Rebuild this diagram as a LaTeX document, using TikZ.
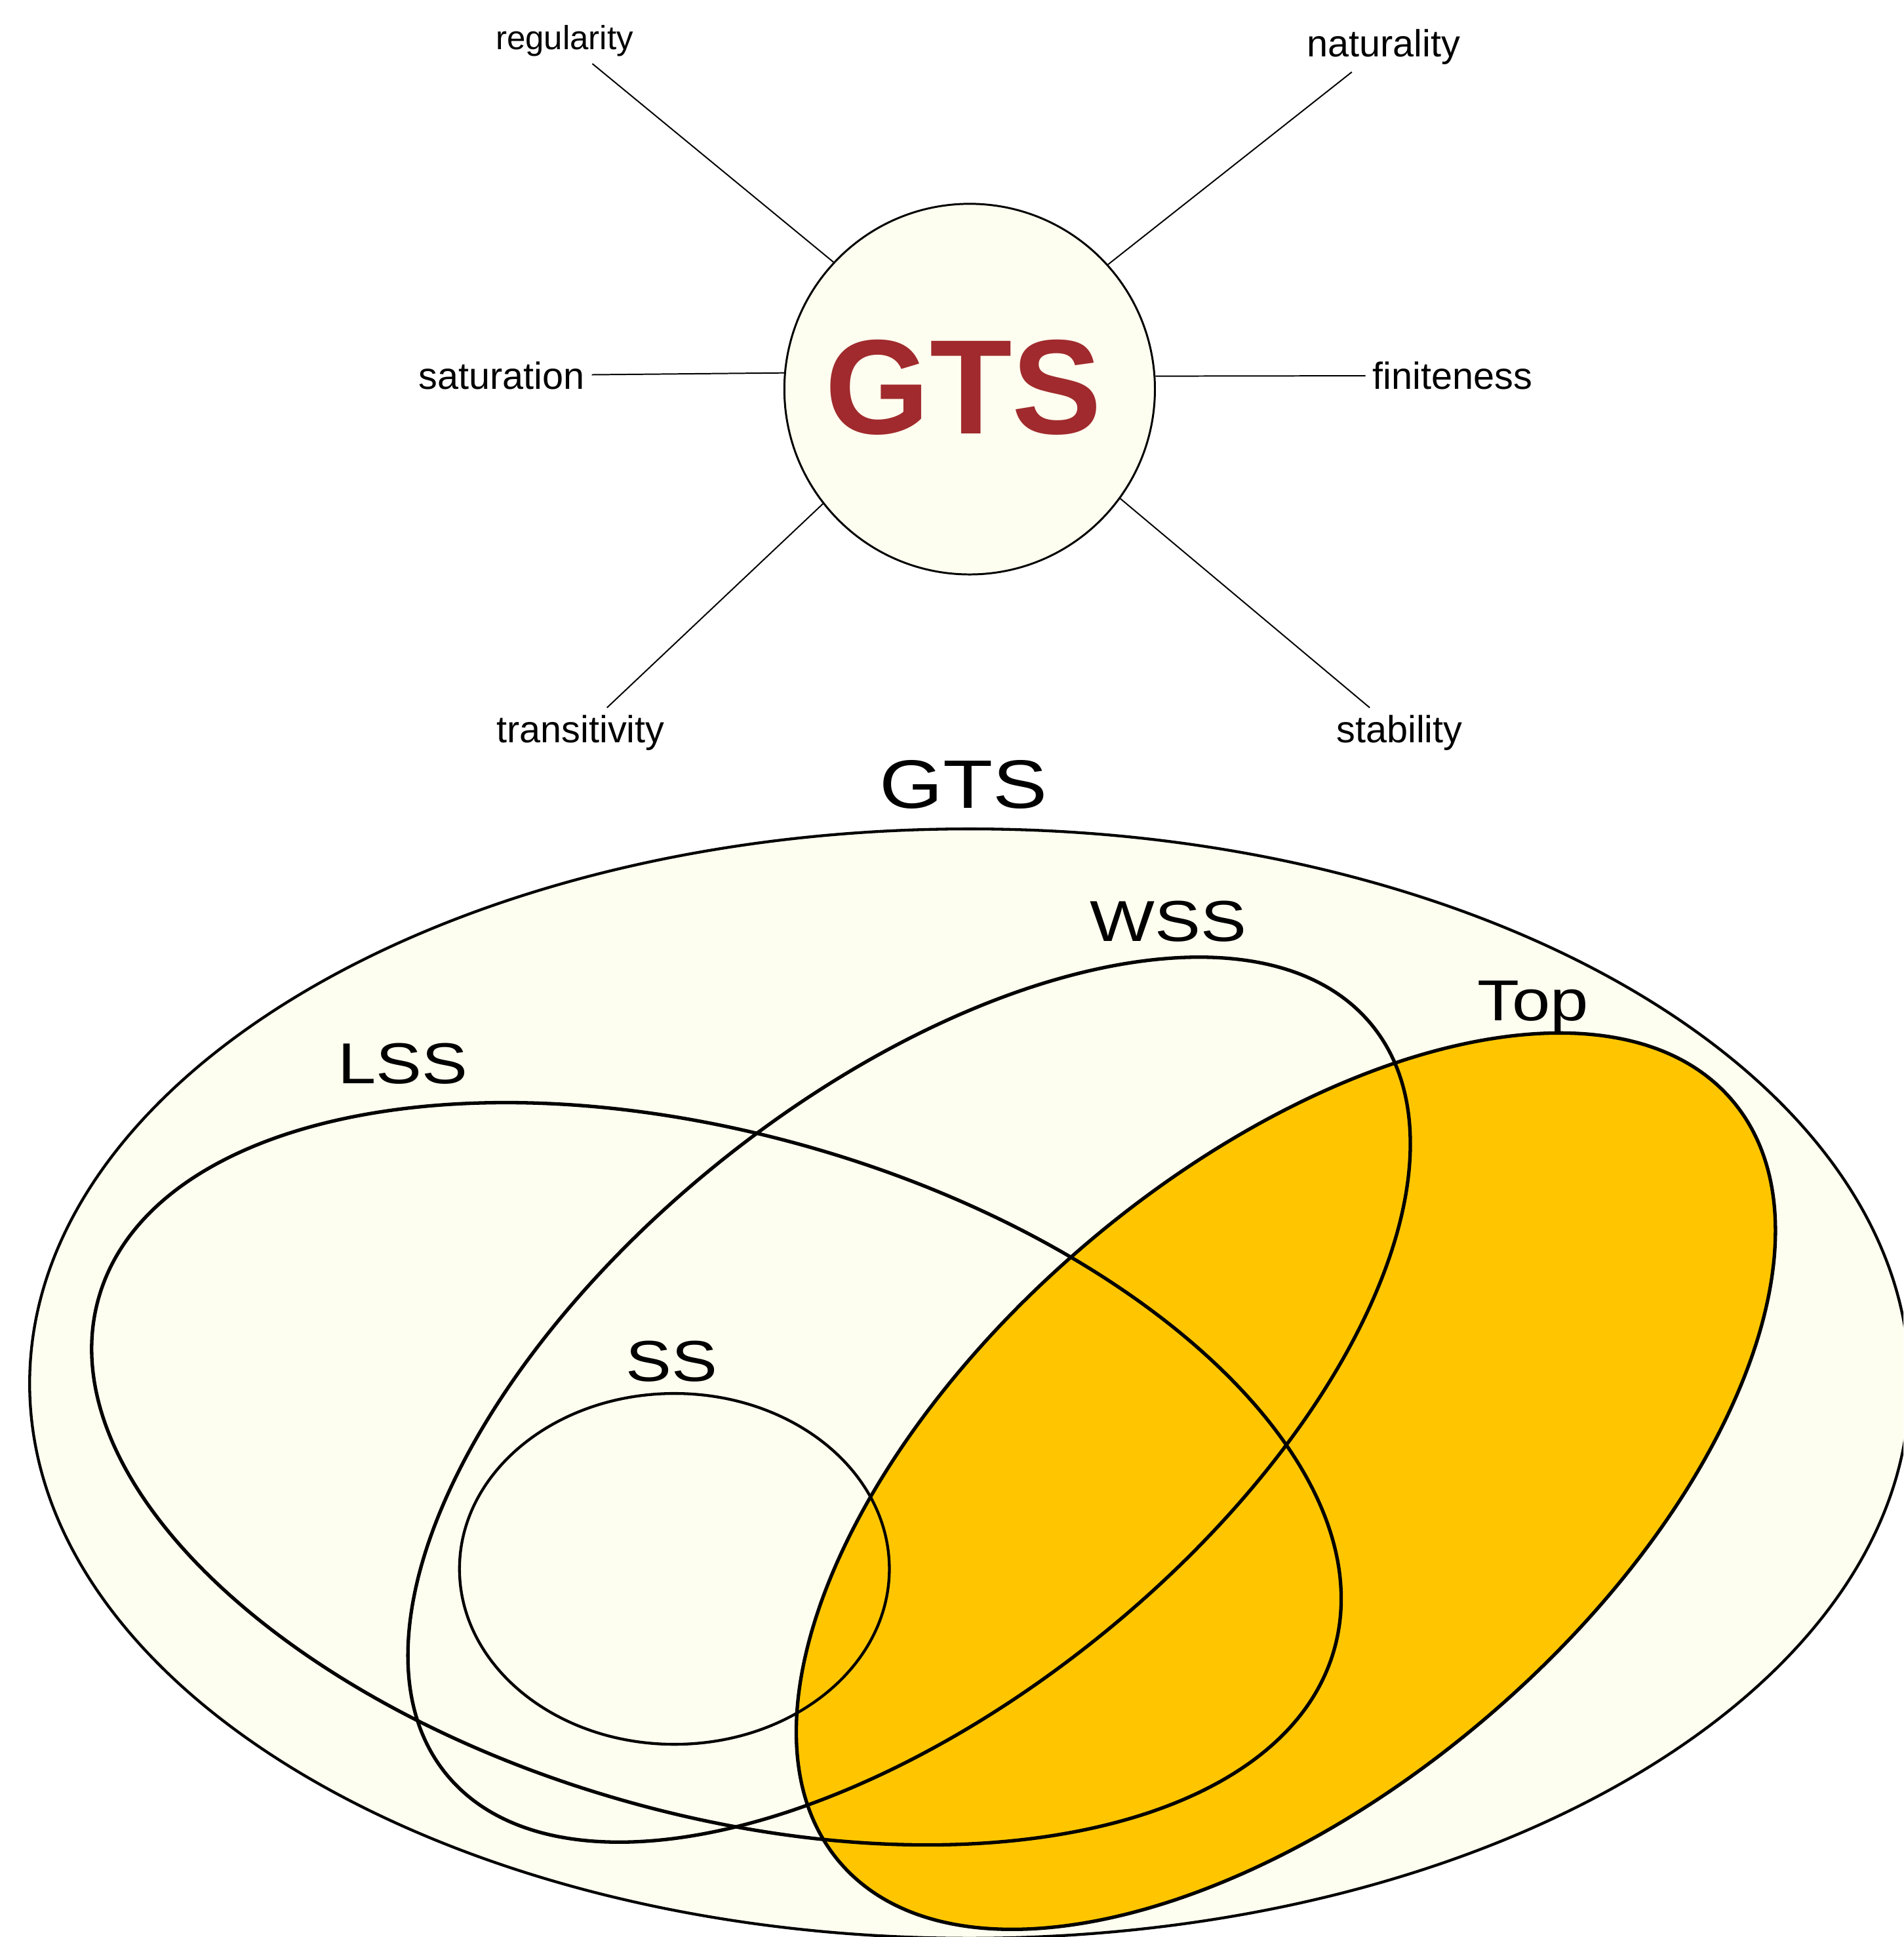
\documentclass[tikz,border=0pt]{standalone}
\usepackage{fontspec}
\setmainfont{Liberation Sans}
\usepackage{graphicx}
\usepackage{tikz}
\usetikzlibrary{positioning}

\definecolor{gtsivory}{RGB}{254,254,240}
\definecolor{topgold}{RGB}{255,198,0}
\definecolor{gtsred}{RGB}{160,42,45}
\newcommand{\widelabel}[1]{\scalebox{1.19}[1]{#1}}

\begin{document}
\begin{tikzpicture}[text=black,
	prop/.style={font=\fontsize{8.7}{10}\selectfont, inner sep=1.5pt, anchor=base},
	propline/.style={line width=0.3pt},
	setlabel/.style={font=\fontsize{13.3}{16}\selectfont, anchor=base},
	setline/.style={line width=0.8pt}]
	\def \gtsx {7.85}
\def \gtsy {-3.15}

\useasboundingbox (0,0) rectangle (15.41,-15.68);
\clip (0,0) rectangle (15.41,-15.68);

%Circle with the properties round it
\node[draw, circle, fill=gtsivory, line width=0.45pt, minimum size=3cm, inner sep=0pt] (gts) at (\gtsx,\gtsy) {};
\node[anchor=base, text=gtsred, font=\fontsize{31}{36}\bfseries\selectfont] (gtsname) at (7.80,-3.51) {GTS};

\node[prop, font=\fontsize{7.7}{9}\selectfont] (reg) at (4.57,-0.40) {regularity};
\node[prop] (nat) at (11.20,-0.46) {naturality};
\node[prop] (sat) at (4.06,-3.15) {saturation};
\node[prop] (fin) at (11.76,-3.15) {finiteness};
\node[prop] (trans) at (4.70,-6.01) {transitivity};
\node[prop] (stab) at (11.33,-6.01) {stability};

\draw[propline] (reg) -- (gts.137);
\draw[propline] (nat) -- (gts.42);
\draw[propline] (sat) -- (gts.175);
\draw[propline] (fin) -- (gts.4.5);
\draw[propline] (trans) -- (gts.218);
\draw[propline] (stab) -- (gts.324);

%Venn diagram of the spaces
\draw[line width=0.65pt, fill=gtsivory] (7.85,-11.20) ellipse [x radius=7.61, y radius=4.49];
\draw[setline, fill=topgold, shift={(10.41,-11.99)}, rotate=40.5] (0,0) ellipse [x radius=4.75, y radius=2.51];
\draw[setline, shift={(5.80,-11.93)}, rotate=-15.9] (0,0) ellipse [x radius=5.20, y radius=2.75];
\draw[setline, shift={(7.36,-11.33)}, rotate=38.9] (0,0) ellipse [x radius=4.82, y radius=2.46];
\draw[line width=0.65pt] (5.46,-12.70) ellipse [x radius=1.74, y radius=1.42];

\node[setlabel, font=\fontsize{15.8}{19}\selectfont] (gtsset) at (7.80,-6.54) {\widelabel{GTS}};
\node[setlabel] (wss) at (9.46,-7.62) {\widelabel{WSS}};
\node[setlabel] (top) at (12.41,-8.26) {\widelabel{Top}};
\node[setlabel] (lss) at (3.26,-8.77) {\widelabel{LSS}};
\node[setlabel] (ss) at (5.44,-11.18) {\widelabel{SS}};

\end{tikzpicture}
\end{document}
